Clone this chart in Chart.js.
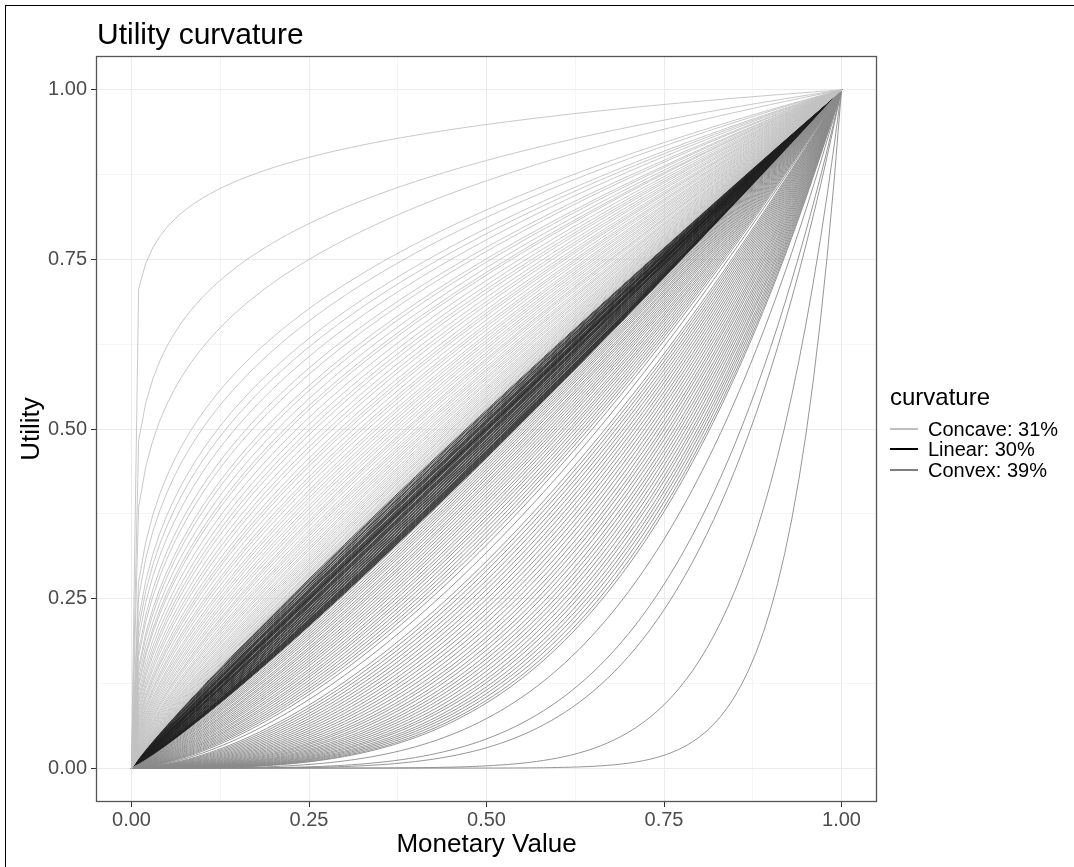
<!DOCTYPE html>
<html>
<head>
<meta charset="utf-8">
<title>Utility curvature</title>
<script src="https://cdn.jsdelivr.net/npm/chart.js@4.4.0/dist/chart.umd.min.js"></script>
<style>
  html, body { margin: 0; padding: 0; background: #fff; }
  #wrap { position: relative; width: 1074px; height: 867px; overflow: hidden; font-family: 'Liberation Sans', Arial, sans-serif; }
  #frame { position: absolute; left: 5px; top: 5px; right: -5px; bottom: -5px; border-left: 1px solid #000; border-top: 1px solid #000; }
  #utilityChart { position: absolute; left: 0; top: 0; }
  .title { position: absolute; left: 97px; top: 19px; font-size: 30px; line-height: 30px; color: #000; white-space: nowrap; }
  .legend-title { position: absolute; left: 890px; top: 385px; font-size: 24px; line-height: 24px; color: #000; white-space: nowrap; }
  .legend-item { position: absolute; left: 890px; height: 20px; white-space: nowrap; }
  .legend-item .key { position: absolute; left: 0; top: 9px; width: 28px; height: 2px; }
  .legend-item .label { position: absolute; left: 38px; top: 0; font-size: 20px; line-height: 20px; color: #000; }
</style>
</head>
<body>
<div id="wrap">
  <canvas id="utilityChart" width="1074" height="867"></canvas>
  <div id="frame"></div>
  <div class="title">Utility curvature</div>
  <div class="legend-title">curvature</div>
  <div id="legend"></div>
</div>
<script>
// x positions the curves were sampled at
const xGrid = [
  0, 0.01, 0.02, 0.03, 0.04, 0.05, 0.06, 0.07, 0.08, 0.09,
  0.1, 0.11, 0.12, 0.13, 0.14, 0.15, 0.16, 0.17, 0.18, 0.19,
  0.2, 0.21, 0.22, 0.23, 0.24, 0.25, 0.26, 0.27, 0.28, 0.29,
  0.3, 0.31, 0.32, 0.33, 0.34, 0.35, 0.36, 0.37, 0.38, 0.39,
  0.4, 0.41, 0.42, 0.43, 0.44, 0.45, 0.46, 0.47, 0.48, 0.49,
  0.5, 0.51, 0.52, 0.53, 0.54, 0.55, 0.56, 0.57, 0.58, 0.59,
  0.6, 0.61, 0.62, 0.63, 0.64, 0.65, 0.66, 0.67, 0.68, 0.69,
  0.7, 0.71, 0.72, 0.73, 0.74, 0.75, 0.76, 0.77, 0.78, 0.79,
  0.8, 0.81, 0.82, 0.83, 0.84, 0.85, 0.86, 0.87, 0.88, 0.89,
  0.9, 0.91, 0.92, 0.93, 0.94, 0.95, 0.96, 0.97, 0.98, 0.99, 1
];

// utility of each curve at monetary value 0.5
const concaveMid = [
  0.949, 0.896, 0.866, 0.823, 0.812, 0.796, 0.788, 0.779, 0.768, 0.762,
  0.751, 0.746, 0.738, 0.731, 0.727, 0.719, 0.712, 0.706, 0.701, 0.694,
  0.688, 0.683, 0.676, 0.671, 0.667, 0.661, 0.655, 0.651, 0.646, 0.640,
  0.636, 0.631, 0.627, 0.622, 0.618, 0.613, 0.609, 0.604, 0.601, 0.597,
  0.592, 0.588, 0.585, 0.581, 0.577, 0.574, 0.570, 0.567, 0.563, 0.560,
  0.557, 0.554, 0.551, 0.548, 0.546, 0.543, 0.541, 0.538, 0.536, 0.534,
  0.532, 0.530
];
const linearMid = [
  0.528, 0.526, 0.525, 0.523, 0.521, 0.520, 0.519, 0.517, 0.516, 0.514,
  0.513, 0.512, 0.511, 0.510, 0.509, 0.508, 0.506, 0.505, 0.504, 0.503,
  0.502, 0.501, 0.500, 0.500, 0.499, 0.498, 0.497, 0.496, 0.494, 0.493,
  0.492, 0.491, 0.490, 0.489, 0.488, 0.487, 0.485, 0.484, 0.483, 0.481,
  0.480, 0.479, 0.477, 0.476, 0.475, 0.473, 0.472, 0.471, 0.469, 0.468,
  0.467, 0.466, 0.465, 0.464, 0.463, 0.462, 0.461, 0.460, 0.459, 0.458
];
const convexMid = [
  0.456, 0.452, 0.448, 0.444, 0.440, 0.436, 0.431, 0.427, 0.422, 0.418,
  0.413, 0.408, 0.403, 0.398, 0.393, 0.388, 0.382, 0.377, 0.371, 0.366,
  0.360, 0.354, 0.348, 0.342, 0.336, 0.329, 0.318, 0.305, 0.298, 0.291,
  0.284, 0.277, 0.270, 0.263, 0.256, 0.249, 0.242, 0.235, 0.228, 0.221,
  0.214, 0.207, 0.200, 0.193, 0.187, 0.180, 0.174, 0.167, 0.161, 0.155,
  0.149, 0.143, 0.137, 0.131, 0.126, 0.120, 0.115, 0.110, 0.105, 0.100,
  0.096, 0.073, 0.043, 0.030, 0.0033, 0.00007
];

const groupNames = ['Concave', 'Linear', 'Convex'];
const groupShares = ['31%', '30%', '39%'];
const tickValues = [0, 0.25, 0.5, 0.75, 1];
const tickLabels = ['0.00', '0.25', '0.50', '0.75', '1.00'];
const minorValues = [0.125, 0.375, 0.625, 0.875];

const lineColors = { Concave: '#c2c2c2', Linear: '#1e1e1e', Convex: '#8a8a8a' };
const lineWidths = { Concave: 0.9, Linear: 0.8, Convex: 0.9 };
const keyColors = { Concave: '#bebebe', Linear: '#000000', Convex: '#7f7f7f' };
const FONT = "'Liberation Sans', Arial, sans-serif";

// each curve is u(x) = x^r, r taken from its value at x = 0.5
function curvePoints(mid) {
  const r = Math.log(mid) / Math.log(0.5);
  return xGrid.map((x) => ({ x, y: Math.pow(x, r) }));
}

function makeSets(mids, group) {
  return mids.map((mid) => ({
    label: group,
    data: curvePoints(mid),
    borderColor: lineColors[group],
    borderWidth: lineWidths[group],
    pointRadius: 0,
    fill: false,
    tension: 0,
  }));
}

const isMajor = (v) => tickValues.some((t) => Math.abs(t - v) < 1e-9);

function axisTicks(scale) {
  scale.ticks = tickValues.concat(minorValues).sort((a, b) => a - b).map((v) => ({ value: v }));
}

function tickLabel(value) {
  const i = tickValues.findIndex((t) => Math.abs(t - value) < 1e-9);
  return i >= 0 ? tickLabels[i] : '';
}

const gridOpts = {
  color: '#ebebeb',
  lineWidth: (c) => (c.tick && isMajor(c.tick.value) ? 1 : 0.5),
  tickColor: (c) => (c.tick && isMajor(c.tick.value) ? '#333333' : 'rgba(0,0,0,0)'),
  tickLength: 5,
  drawTicks: true,
};

const panelBorder = {
  id: 'panelBorder',
  afterDraw(chart) {
    const { ctx, chartArea: a } = chart;
    ctx.save();
    ctx.strokeStyle = '#555555';
    ctx.lineWidth = 1.3;
    ctx.strokeRect(a.left + 0.5, a.top + 0.5, a.right - a.left - 1, a.bottom - a.top - 1);
    ctx.restore();
  },
};

function initLegend() {
  const box = document.getElementById('legend');
  const tops = [419, 439, 460];
  groupNames.forEach((name, i) => {
    const item = document.createElement('div');
    item.className = 'legend-item';
    item.style.top = tops[i] + 'px';
    item.innerHTML = `<div class="key" style="background:${keyColors[name]}"></div>` +
      `<div class="label">${name}: ${groupShares[i]}</div>`;
    box.appendChild(item);
  });
}

function initChart() {
  const ctx = document.getElementById('utilityChart');
  const datasets = [].concat(
    makeSets(concaveMid, 'Concave'),
    makeSets(convexMid, 'Convex'),
    makeSets(linearMid, 'Linear')
  );
  return new Chart(ctx, {
    type: 'line',
    data: { datasets },
    options: {
      responsive: false,
      animation: false,
      events: [],
      layout: { padding: { left: 0, top: 56, right: 197, bottom: 0 } },
      plugins: { legend: { display: false }, tooltip: { enabled: false }, title: { display: false } },
      scales: {
        x: {
          type: 'linear',
          min: -0.05,
          max: 1.05,
          afterBuildTicks: axisTicks,
          afterFit: (s) => { s.height = 65; },
          grid: gridOpts,
          border: { display: false },
          ticks: { autoSkip: false, callback: tickLabel, color: '#4d4d4d', padding: 1, maxRotation: 0, font: { family: FONT, size: 20 } },
          title: { display: true, text: 'Monetary Value', color: '#000', padding: { top: 0, bottom: 7 }, font: { family: FONT, size: 26 } },
        },
        y: {
          type: 'linear',
          min: -0.05,
          max: 1.05,
          afterBuildTicks: axisTicks,
          afterFit: (s) => { s.width = 96; },
          grid: gridOpts,
          border: { display: false },
          ticks: { autoSkip: false, callback: tickLabel, color: '#4d4d4d', padding: 4, font: { family: FONT, size: 20 } },
          title: { display: true, text: 'Utility', color: '#000', padding: { top: 16, bottom: 0 }, font: { family: FONT, size: 26 } },
        },
      },
    },
    plugins: [panelBorder],
  });
}

document.addEventListener('DOMContentLoaded', () => {
  initLegend();
  initChart();
});
</script>
</body>
</html>
